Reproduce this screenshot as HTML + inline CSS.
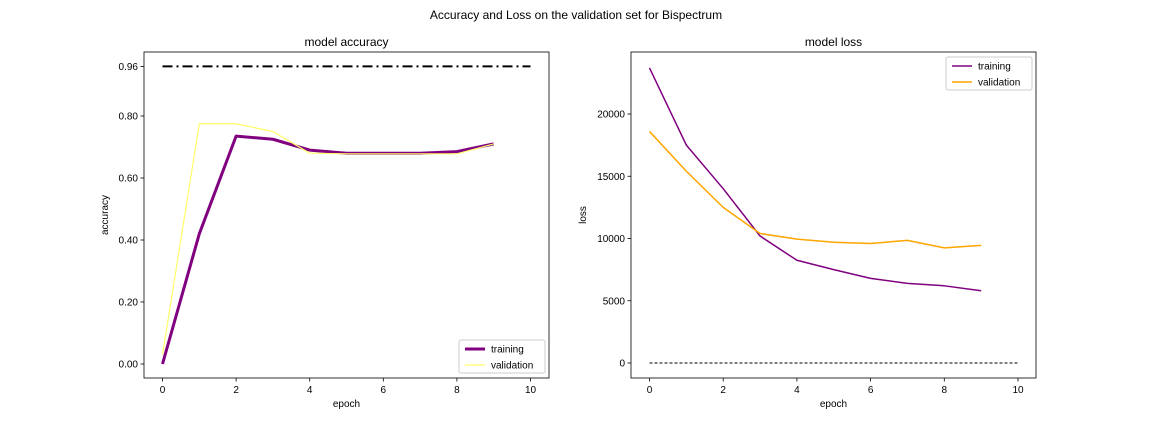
<!DOCTYPE html>
<html><head><meta charset="utf-8"><style>
body{margin:0;background:#fff;font-family:"Liberation Sans","DejaVu Sans",sans-serif}
svg text{font-family:"Liberation Sans","DejaVu Sans",sans-serif;fill:#000}
</style></head><body>
<svg id="c" width="1152" height="432" xmlns="http://www.w3.org/2000/svg">
<text x="576" y="19" font-size="12" text-anchor="middle">Accuracy and Loss on the validation set for Bispectrum</text>
</svg>
<script>
const epochs=[0,1,2,3,4,5,6,7,8,9];
const accTrain=[0.0,0.42,0.735,0.725,0.69,0.68,0.68,0.68,0.685,0.71];
const accVal=[0.03,0.775,0.775,0.75,0.68,0.678,0.678,0.678,0.678,0.71];
const lossTrain=[23700,17500,14000,10200,8250,7500,6800,6400,6200,5800];
const lossVal=[18600,15400,12500,10400,9950,9700,9600,9850,9250,9450];
const xTicks=[0,2,4,6,8,10];
const accTicks=[0,0.2,0.4,0.6,0.8,0.96];
const lossTicks=[0,5000,10000,15000,20000];
const accRef=0.96, lossRef=0;
const svg=document.getElementById('c');
const NS='http://www.w3.org/2000/svg';
function mk(t,a,p){const e=document.createElementNS(NS,t);for(const k in a)e.setAttribute(k,a[k]);(p||svg).appendChild(e);return e;}
function panel(o){
 const g=mk('g',{});
 
 
 const X=v=>o.x0+(v-0)*o.xs, Y=v=>o.y0-v*o.ys;
 const fr=mk('rect',{x:o.L,y:52,width:o.W,height:326,fill:'none',stroke:'#000','stroke-width':0.8},g);
 
 
 const t=mk('text',{x:o.L+o.W/2,y:46,'font-size':12,'text-anchor':'middle'},g);t.textContent=o.title;
 
 
 xTicks.forEach(v=>{mk('line',{x1:X(v),x2:X(v),y1:378,y2:381.5,stroke:'#000','stroke-width':0.8},g);
  const tx=mk('text',{x:X(v),y:393,'font-size':10,'text-anchor':'middle'},g);tx.textContent=v;
  
  });
 o.yt.forEach(v=>{mk('line',{x1:o.L-3.5,x2:o.L,y1:Y(v),y2:Y(v),stroke:'#000','stroke-width':0.8},g);
  const tx=mk('text',{x:o.L-6,y:Y(v)+3.5,'font-size':10,'text-anchor':'end'},g);tx.textContent=o.fmt(v);
  
  });
 const xl=mk('text',{x:o.L+o.W/2,y:407,'font-size':10,'text-anchor':'middle'},g);xl.textContent='epoch';
 
 
 const yl=mk('text',{x:0,y:0,'font-size':10,'text-anchor':'middle',transform:`translate(${o.ylx},215) rotate(-90)`},g);yl.textContent=o.ylab;
 
 
 const rl=mk('line',{x1:X(0),x2:X(10),y1:Y(o.ref),y2:Y(o.ref),stroke:'#000','stroke-width':o.refW,'stroke-dasharray':o.refD},g);
 
 
 o.series.forEach(s=>{const p=mk('polyline',{points:epochs.map((e,i)=>X(e)+','+Y(s.d[i])).join(' '),fill:'none',stroke:s.c,'stroke-width':s.w,'stroke-linejoin':'round'},g);
  
  });
 const lg=mk('g',{},g);
 
 
 mk('rect',{x:o.lx,y:o.ly,width:86,height:33,rx:2,fill:'#fff',stroke:'#ccc'},lg);
 o.series.forEach((s,i)=>{const yy=o.ly+9+i*16;mk('line',{x1:o.lx+6,x2:o.lx+26,y1:yy,y2:yy,stroke:s.c,'stroke-width':s.w},lg);
  const tx=mk('text',{x:o.lx+32,y:yy+3.5,'font-size':10},lg);tx.textContent=s.label;
  
  });
}
panel({name:'accuracy-panel',L:144,W:405,x0:162.5,xs:36.8,y0:364,ys:310,title:'model accuracy',ylab:'accuracy',ylx:108,
 yt:accTicks,fmt:v=>v.toFixed(2),ref:accRef,refW:2,refD:'10,4,2,4',lx:459,ly:340,
 series:[{n:'accuracy-training-line',d:accTrain,c:'#800080',w:3,label:'training'},{n:'accuracy-validation-line',d:accVal,c:'#ffff66',w:1.2,label:'validation'}]});
panel({name:'loss-panel',L:631,W:405,x0:649.5,xs:36.85,y0:363,ys:0.01245,title:'model loss',ylab:'loss',ylx:586,
 yt:lossTicks,fmt:v=>String(v),ref:lossRef,refW:1,refD:'3,2',lx:946,ly:57,
 series:[{n:'loss-training-line',d:lossTrain,c:'#800080',w:1.5,label:'training'},{n:'loss-validation-line',d:lossVal,c:'#ffa500',w:1.5,label:'validation'}]});
</script>
</body></html>
